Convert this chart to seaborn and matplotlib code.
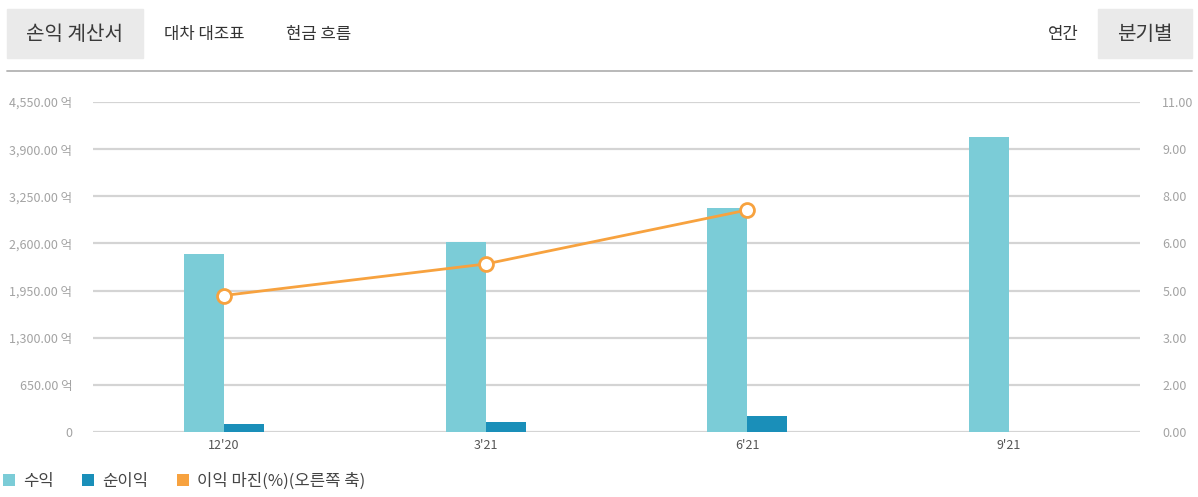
import numpy as np
import pandas as pd
import matplotlib
matplotlib.use("Agg")
import matplotlib.pyplot as plt
import seaborn as sns
from matplotlib.patches import Rectangle
from matplotlib.lines import Line2D

# data (억 원, %)
quarters = ["12'20", "3'21", "6'21", "9'21"]
revenue = [2455, 2620, 3090, 4065]
net_income = [110, 140, 222, np.nan]
margin = [4.55, 5.6, 7.4]

left_ticks = [0, 650, 1300, 1950, 2600, 3250, 3900, 4550]
right_labels = ["0.00", "2.00", "3.00", "5.00", "6.00", "8.00", "9.00", "11.00"]

c_rev = "#7BCCD7"
c_net = "#1A8FB9"
c_margin = "#F7A23F"

sns.set_theme(style="white")
plt.rcParams['font.family'] = ['Noto Sans CJK KR', 'DejaVu Sans']

df = pd.DataFrame({
    "quarter": quarters * 2,
    "value": revenue + net_income,
    "series": ["수익"] * 4 + ["순이익"] * 4,
})

fig = plt.figure(figsize=(11.98, 4.97), dpi=100)
ax = fig.add_axes([93 / 1198, 65 / 497, 1047 / 1198, 330 / 497])

sns.barplot(data=df, x="quarter", y="value", hue="series", order=quarters,
            palette=[c_rev, c_net], width=0.306, ax=ax, legend=False,
            saturation=1, edgecolor="none")

ax.set_ylim(0, 4550)
ax.set_xlim(-0.5, 3.5)
ax.set_yticks(left_ticks)
ax.set_yticklabels(["0"] + [f"{v:,.2f} 억" for v in left_ticks[1:]])
ax.yaxis.grid(True, color="#D4D4D4", linewidth=1.6)
ax.set_axisbelow(True)
for s in ax.spines.values():
    s.set_visible(False)
ax.set_xlabel("")
ax.set_ylabel("")
ax.tick_params(axis="y", length=0, pad=15, labelsize=9, labelcolor="#A3A3A3")
ax.tick_params(axis="x", length=0, pad=5, labelsize=9, labelcolor="#555555")

ax2 = ax.twinx()
sns.lineplot(x=np.arange(len(margin)), y=margin, ax=ax2, color=c_margin,
             linewidth=2, marker="o", markersize=10, markerfacecolor="white",
             markeredgecolor=c_margin, markeredgewidth=2)
ax2.set_ylim(0, 11)
ax2.set_xlim(-0.5, 3.5)
ax2.set_yticks(np.linspace(0, 11, len(right_labels)))
ax2.set_yticklabels(right_labels)
ax2.tick_params(axis="y", length=0, pad=16, labelsize=9, labelcolor="#A3A3A3")
for s in ax2.spines.values():
    s.set_visible(False)
ax2.grid(False)

# header tabs
fig.patches.append(Rectangle((7 / 1198, (497 - 58) / 497), 136 / 1198, 49 / 497,
                             transform=fig.transFigure, color="#EAEAEA", zorder=0))
fig.patches.append(Rectangle((1098 / 1198, (497 - 58) / 497), 94 / 1198, 49 / 497,
                             transform=fig.transFigure, color="#EAEAEA", zorder=0))
fig.text(75 / 1198, 1 - 34 / 497, "손익 계산서", ha="center", va="center",
         fontsize=14.5, color="#3A3A3A")
fig.text(204 / 1198, 1 - 35 / 497, "대차 대조표", ha="center", va="center",
         fontsize=12, color="#333333")
fig.text(319 / 1198, 1 - 35 / 497, "현금 흐름", ha="center", va="center",
         fontsize=12, color="#333333")
fig.text(1063 / 1198, 1 - 35 / 497, "연간", ha="center", va="center",
         fontsize=12, color="#333333")
fig.text(1145 / 1198, 1 - 34 / 497, "분기별", ha="center", va="center",
         fontsize=14.5, color="#3A3A3A")
fig.lines.append(Line2D([7 / 1198, 1192 / 1198], [1 - 71 / 497, 1 - 71 / 497],
                        transform=fig.transFigure, color="#B3B3B3", linewidth=1.3))

# legend
handles = [Line2D([], [], marker="s", linestyle="none", markersize=8.5,
                  color=c, markeredgewidth=0) for c in [c_rev, c_net, c_margin]]
fig.legend(handles, ["수익", "순이익", "이익 마진(%)(오른쪽 축)"], loc="center left",
           bbox_to_anchor=(0.0, 1 - 481 / 497), ncol=3, frameon=False,
           fontsize=12, handlelength=0.7, handletextpad=0.5, columnspacing=1.7,
           labelcolor="#444444", borderaxespad=0, borderpad=0.2)

fig.savefig("out.png", dpi=100)
